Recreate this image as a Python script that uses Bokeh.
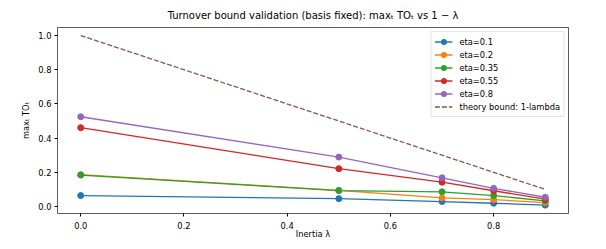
from bokeh.plotting import figure
from bokeh.models import Legend, LegendItem, Range1d, FixedTicker, NumeralTickFormatter
from bokeh.embed import file_html
from bokeh.resources import INLINE

lambdas = [0.0, 0.5, 0.7, 0.8, 0.9]
eta_labels = ["eta=0.1", "eta=0.2", "eta=0.35", "eta=0.55", "eta=0.8"]
eta_01 = [0.064, 0.046, 0.029, 0.019, 0.008]
eta_02 = [0.186, 0.094, 0.050, 0.040, 0.023]
eta_035 = [0.184, 0.093, 0.086, 0.064, 0.033]
eta_055 = [0.461, 0.221, 0.142, 0.092, 0.043]
eta_08 = [0.525, 0.289, 0.168, 0.106, 0.054]
theory = [1.0, 0.5, 0.3, 0.2, 0.1]
theory_label = "theory bound: 1-lambda"
x_ticks = [0.0, 0.2, 0.4, 0.6, 0.8]
y_ticks = [0.0, 0.2, 0.4, 0.6, 0.8, 1.0]

colors = ["#1f77b4", "#ff7f0e", "#2ca02c", "#d62728", "#9467bd"]
theory_color = "#8c564b"
FONT = "DejaVu Sans"

p = figure(width=598, height=241, output_backend="svg", toolbar_location=None,
           title="Turnover bound validation (basis fixed): maxₜ TOₜ vs 1 − λ",
           x_range=Range1d(-0.045, 0.945), y_range=Range1d(-0.041, 1.047),
           min_border_left=57, min_border_right=30, min_border_top=27,
           min_border_bottom=27)

p.title.align = "center"
p.title.text_font = FONT
p.title.text_font_size = "10px"
p.title.text_font_style = "normal"
p.title.text_color = "black"
p.title.offset = 0
p.title.standoff = 14

p.grid.visible = False
p.outline_line_color = "black"
p.outline_line_width = 0.8
p.outline_line_alpha = 0.8

for ax in [p.xaxis[0], p.yaxis[0]]:
    ax.axis_line_color = None
    ax.major_tick_in = 0
    ax.major_tick_out = 3
    ax.minor_tick_line_color = None
    ax.major_tick_line_color = "black"
    ax.major_label_text_font = FONT
    ax.major_label_text_font_size = "8.3px"
    ax.major_label_text_color = "black"
    ax.axis_label_text_font = FONT
    ax.axis_label_text_font_size = "8.3px"
    ax.axis_label_text_font_style = "normal"
    ax.axis_label_text_color = "black"
    ax.formatter = NumeralTickFormatter(format="0.0")

p.xaxis.major_label_standoff = 5
p.xaxis.axis_label_standoff = -3
p.yaxis.major_label_standoff = 3
p.yaxis.axis_label_standoff = 4

p.xaxis.ticker = FixedTicker(ticks=x_ticks)
p.yaxis.ticker = FixedTicker(ticks=y_ticks)
p.xaxis.axis_label = "Inertia λ"
p.yaxis.axis_label = "maxₜ TOₜ"

items = []
for label, ys, c in zip(eta_labels, [eta_01, eta_02, eta_035, eta_055, eta_08], colors):
    r1 = p.line(lambdas, ys, line_color=c, line_width=1.3)
    r2 = p.scatter(lambdas, ys, size=6, fill_color=c, line_color=c)
    items.append(LegendItem(label=label, renderers=[r1, r2]))

rt = p.line(lambdas, theory, line_color=theory_color, line_width=1.3, line_dash="5 2")
items.append(LegendItem(label=theory_label, renderers=[rt]))

legend = Legend(items=items, location="top_right", margin=4, padding=3,
                spacing=0, label_height=13, glyph_height=13, glyph_width=18,
                label_standoff=7, label_text_font=FONT,
                label_text_font_size="8.3px", label_text_color="black",
                border_line_color="#cccccc", border_line_width=1,
                background_fill_alpha=0.8)
p.add_layout(legend)

open("out.html", "w").write(file_html(p, INLINE))
